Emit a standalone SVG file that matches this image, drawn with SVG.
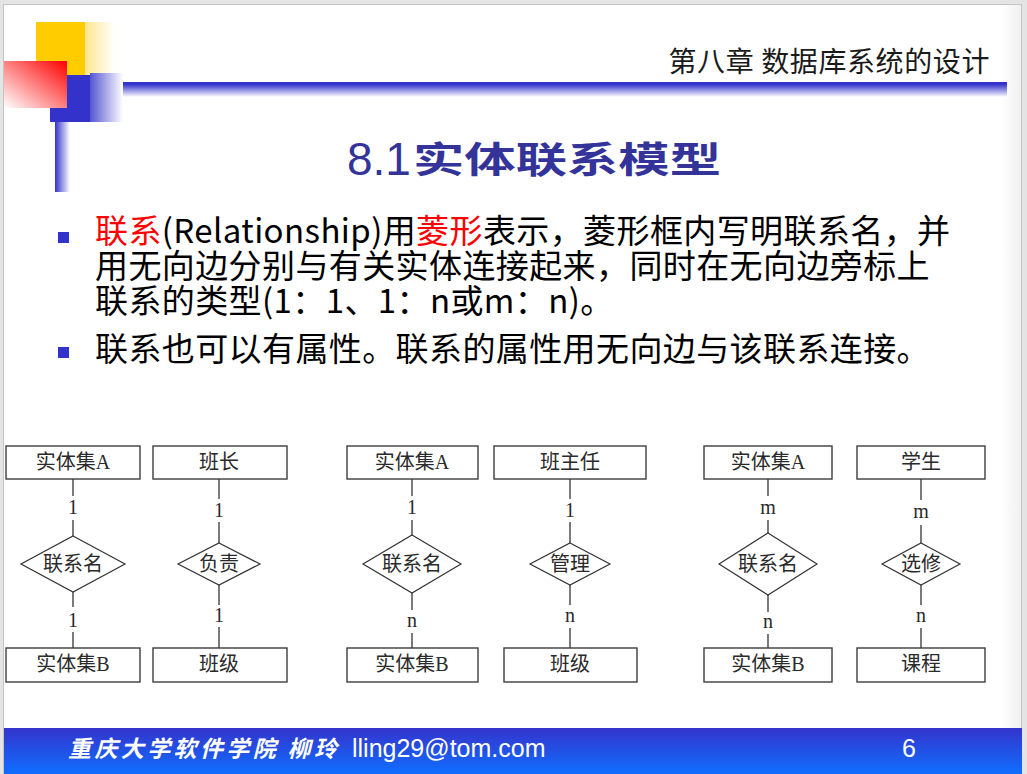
<svg xmlns="http://www.w3.org/2000/svg" width="1027" height="774" viewBox="0 0 1027 774">
  <defs>
    <linearGradient id="gYellowFade" x1="0" y1="0" x2="1" y2="0">
      <stop offset="0" stop-color="#ffe690"/>
      <stop offset="1" stop-color="#ffffff"/>
    </linearGradient>
    <linearGradient id="gBlueFade" x1="0" y1="0" x2="1" y2="0">
      <stop offset="0" stop-color="#5555d4"/>
      <stop offset="1" stop-color="#ffffff"/>
    </linearGradient>
    <linearGradient id="gRed" x1="1" y1="0" x2="0" y2="1">
      <stop offset="0" stop-color="#ff0000"/>
      <stop offset="1" stop-color="#ffffff"/>
    </linearGradient>
    <linearGradient id="gBar" x1="0" y1="0" x2="1" y2="0">
      <stop offset="0" stop-color="#3333cc"/>
      <stop offset="1" stop-color="#ffffff"/>
    </linearGradient>
    <linearGradient id="gRule" x1="0" y1="0" x2="0" y2="1">
      <stop offset="0" stop-color="#3333cc"/>
      <stop offset="0.15" stop-color="#3333cc"/>
      <stop offset="1" stop-color="#ffffff"/>
    </linearGradient>
    <linearGradient id="gFooter" x1="0" y1="0" x2="0" y2="1">
      <stop offset="0" stop-color="#3434cc"/>
      <stop offset="1" stop-color="#0f6eff"/>
    </linearGradient>
    <linearGradient id="gEdge" x1="0" y1="0" x2="1" y2="0">
      <stop offset="0" stop-color="#ffffff"/>
      <stop offset="1" stop-color="#f0f0f0"/>
    </linearGradient>
    <style>
      .box { fill: #ffffff; stroke: #3c3c3c; stroke-width: 1.4; }
      .dia { fill: #ffffff; stroke: #333333; stroke-width: 1.2; }
      .edge { stroke: #333333; stroke-width: 1.3; fill: none; }
      .lbl { font-family: "Liberation Serif", "Noto Sans CJK SC", serif; font-size: 20px; fill: #2a2a2a; text-anchor: middle; }
      .card { font-family: "Liberation Serif", serif; font-size: 20px; fill: #2a2a2a; text-anchor: middle; }
      .body { font-family: "Noto Sans CJK SC", sans-serif; font-size: 33px; letter-spacing: 0.4px; fill: #000000; }
      .red { fill: #ff0000; }
      .bullet { fill: #3333cc; }
    </style>
  </defs>

  <!-- page and slide frame -->
  <rect x="0" y="0" width="1027" height="774" fill="#e4e4e4"/>
  <rect x="3.5" y="4.5" width="1018" height="770" fill="#ffffff" stroke="#c4c4c4" stroke-width="1"/>
  <rect x="1002" y="5" width="19" height="723" fill="url(#gEdge)"/>

  <!-- corner ornament -->
  <g id="ornament">
    <rect x="36" y="22" width="49" height="53" fill="#ffcc00"/>
    <rect x="85" y="22" width="30" height="53" fill="url(#gYellowFade)"/>
    <rect x="50" y="75" width="40" height="47" fill="#3333cc"/>
    <rect x="90" y="73" width="33" height="49" fill="url(#gBlueFade)"/>
    <rect x="4" y="61" width="63" height="47" fill="url(#gRed)"/>
    <rect x="55" y="122" width="15" height="70" fill="url(#gBar)"/>
    <rect x="123" y="82" width="884" height="15" fill="url(#gRule)"/>
  </g>

  <!-- chapter heading -->
  <text x="990" y="72" text-anchor="end" font-family="Noto Sans CJK SC, sans-serif" font-size="28" letter-spacing="0.6" fill="#1a1a1a">第八章 数据库系统的设计</text>

  <!-- section title -->
  <g id="title" fill="#333399">
    <text x="347" y="175" font-family="Liberation Sans, sans-serif" font-size="46">8.1</text>
    <text x="413" y="173" font-family="Noto Sans CJK SC, sans-serif" font-size="36" font-weight="bold" textLength="308" lengthAdjust="spacingAndGlyphs">实体联系模型</text>
  </g>

  <!-- bullet points -->
  <g id="bullets">
    <rect class="bullet" x="58" y="232" width="11" height="11"/>
    <rect class="bullet" x="58" y="347" width="11" height="11"/>
    <text class="body" x="95" y="243"><tspan class="red">联系</tspan>(Relationship)用<tspan class="red">菱形</tspan>表示，菱形框内写明联系名，并</text>
    <text class="body" x="95" y="278">用无向边分别与有关实体连接起来，同时在无向边旁标上</text>
    <text class="body" x="95" y="313">联系的类型(1：1、1：n或m：n)。</text>
    <text class="body" x="95" y="361">联系也可以有属性。联系的属性用无向边与该联系连接。</text>
  </g>

  <!-- connectors -->
  <g id="connectors">
    <!-- 1:1 generic -->
    <line class="edge" x1="73" y1="479" x2="73" y2="496"/>
    <line class="edge" x1="73" y1="520" x2="73" y2="536"/>
    <line class="edge" x1="73" y1="592" x2="73" y2="607"/>
    <line class="edge" x1="73" y1="632" x2="73" y2="648"/>
    <!-- 班长 / 班级 -->
    <line class="edge" x1="219" y1="479" x2="219" y2="499"/>
    <line class="edge" x1="219" y1="522" x2="219" y2="543"/>
    <line class="edge" x1="219" y1="585" x2="219" y2="605"/>
    <line class="edge" x1="219" y1="627" x2="219" y2="648"/>
    <!-- 1:n generic -->
    <line class="edge" x1="412" y1="479" x2="412" y2="496"/>
    <line class="edge" x1="412" y1="520" x2="412" y2="535"/>
    <line class="edge" x1="412" y1="593" x2="412" y2="610"/>
    <line class="edge" x1="412" y1="633" x2="412" y2="648"/>
    <!-- 班主任 / 班级 -->
    <line class="edge" x1="570" y1="479" x2="570" y2="499"/>
    <line class="edge" x1="570" y1="522" x2="570" y2="543"/>
    <line class="edge" x1="570" y1="585" x2="570" y2="605"/>
    <line class="edge" x1="570" y1="628" x2="570" y2="648"/>
    <!-- m:n generic -->
    <line class="edge" x1="768" y1="479" x2="768" y2="496"/>
    <line class="edge" x1="768" y1="520" x2="768" y2="533"/>
    <line class="edge" x1="768" y1="595" x2="768" y2="612"/>
    <line class="edge" x1="768" y1="634" x2="768" y2="648"/>
    <!-- 学生 / 课程 -->
    <line class="edge" x1="921" y1="479" x2="921" y2="500"/>
    <line class="edge" x1="921" y1="525" x2="921" y2="543"/>
    <line class="edge" x1="921" y1="585" x2="921" y2="605"/>
    <line class="edge" x1="921" y1="628" x2="921" y2="648"/>
    <!-- cardinality labels -->
    <text class="card" x="73" y="514">1</text>
    <text class="card" x="73" y="627">1</text>
    <text class="card" x="219" y="517">1</text>
    <text class="card" x="219" y="622">1</text>
    <text class="card" x="412" y="514">1</text>
    <text class="card" x="412" y="627">n</text>
    <text class="card" x="570" y="517">1</text>
    <text class="card" x="570" y="622">n</text>
    <text class="card" x="768" y="514">m</text>
    <text class="card" x="768" y="628">n</text>
    <text class="card" x="921" y="518">m</text>
    <text class="card" x="921" y="622">n</text>
  </g>

  <!-- 1:1 generic -->
  <g id="entityA1"><rect class="box" x="6" y="446" width="134" height="33"/><text class="lbl" x="73" y="469">实体集A</text></g>
  <g id="rel1"><polygon class="dia" points="73,536 125,564 73,592 21,564"/><text class="lbl" x="73" y="571">联系名</text></g>
  <g id="entityB1"><rect class="box" x="6" y="648" width="134" height="34"/><text class="lbl" x="73" y="671">实体集B</text></g>

  <!-- 班长 负责 班级 -->
  <g id="monitor"><rect class="box" x="153" y="446" width="134" height="33"/><text class="lbl" x="219" y="469">班长</text></g>
  <g id="charge"><polygon class="dia" points="219,543 260,564 219,585 178,564"/><text class="lbl" x="219" y="571">负责</text></g>
  <g id="class1"><rect class="box" x="153" y="648" width="134" height="34"/><text class="lbl" x="219" y="671">班级</text></g>

  <!-- 1:n generic -->
  <g id="entityA2"><rect class="box" x="347" y="446" width="131" height="33"/><text class="lbl" x="412" y="469">实体集A</text></g>
  <g id="rel2"><polygon class="dia" points="412,535 461,564 412,593 363,564"/><text class="lbl" x="412" y="571">联系名</text></g>
  <g id="entityB2"><rect class="box" x="347" y="648" width="131" height="34"/><text class="lbl" x="412" y="671">实体集B</text></g>

  <!-- 班主任 管理 班级 -->
  <g id="headteacher"><rect class="box" x="494" y="446" width="152" height="33"/><text class="lbl" x="570" y="469">班主任</text></g>
  <g id="manage"><polygon class="dia" points="570,543 610,564 570,585 530,564"/><text class="lbl" x="570" y="571">管理</text></g>
  <g id="class2"><rect class="box" x="504" y="648" width="133" height="34"/><text class="lbl" x="570" y="671">班级</text></g>

  <!-- m:n generic -->
  <g id="entityA3"><rect class="box" x="704" y="446" width="128" height="33"/><text class="lbl" x="768" y="469">实体集A</text></g>
  <g id="rel3"><polygon class="dia" points="768,533 817,564 768,595 719,564"/><text class="lbl" x="768" y="571">联系名</text></g>
  <g id="entityB3"><rect class="box" x="704" y="648" width="128" height="34"/><text class="lbl" x="768" y="671">实体集B</text></g>

  <!-- 学生 选修 课程 -->
  <g id="student"><rect class="box" x="857" y="446" width="128" height="33"/><text class="lbl" x="921" y="469">学生</text></g>
  <g id="elective"><polygon class="dia" points="921,543 960,564 921,585 882,564"/><text class="lbl" x="921" y="571">选修</text></g>
  <g id="course"><rect class="box" x="857" y="648" width="128" height="34"/><text class="lbl" x="921" y="671">课程</text></g>

  <!-- footer band -->
  <g id="footer">
    <rect x="4" y="728" width="1018" height="46" fill="url(#gFooter)"/>
    <text x="68" y="757" font-family="Noto Sans CJK SC, sans-serif" font-size="23" font-weight="bold" font-style="italic" textLength="269" lengthAdjust="spacing" fill="#ffffff">重庆大学软件学院 柳玲</text>
    <text x="352" y="757" font-family="Liberation Sans, sans-serif" font-size="25" fill="#ffffff">lling29@tom.com</text>
    <text x="902" y="757" font-family="Liberation Sans, sans-serif" font-size="25" fill="#ffffff">6</text>
  </g>
</svg>
